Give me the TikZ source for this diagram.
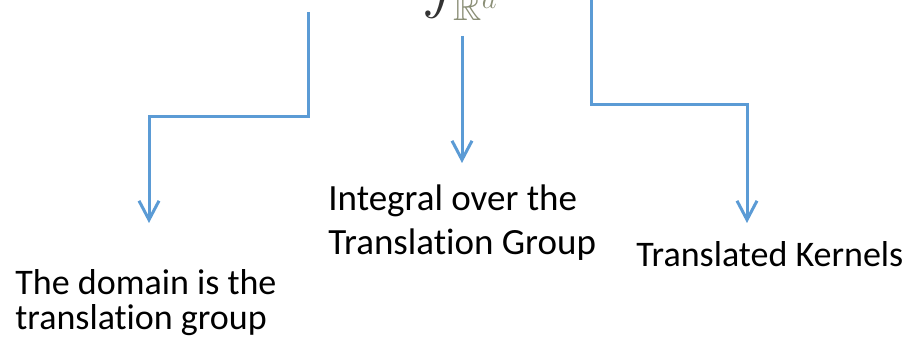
\documentclass[tikz,border=0pt]{standalone}
\usepackage{amssymb}
\usepackage{fontspec}
\setmainfont[Ligatures=NoCommon]{Carlito}
\usepackage{tikz}
\usetikzlibrary{arrows.meta,positioning}
\definecolor{lineblue}{RGB}{91,155,213}
\definecolor{bbgray}{RGB}{138,142,118}

\begin{document}
\begin{tikzpicture}[x=0.5pt,y=-0.5pt,
font=\fontsize{18}{22}\selectfont,
link/.style={-{Straight Barb[length=9.5pt,width=10pt]},draw=lineblue,line width=1.5pt},
boxtext/.style={anchor=north west,inner sep=0pt,align=left}]
    \useasboundingbox (0,0) rectangle (912,340);
    \clip (0,0) rectangle (912,340);

    % formula, only its lower part is inside the page
    \node[anchor=south west,inner sep=0pt,text=black!80] (intg) at (422,21)
        {\fontsize{28}{32}\selectfont$\displaystyle\int_{\color{bbgray}\mathbb{R}^d}$};

    % end points of the links
    \coordinate (ltop) at (308,12);
    \coordinate (lbend) at (308,117);
    \coordinate (ltip) at (149,223);
    \coordinate (mtop) at (462,36);
    \coordinate (mtip) at (462,163);
    \coordinate (rtop) at (591,-2);
    \coordinate (rbend) at (591,105);
    \coordinate (rtip) at (747,223);

    \draw[link] (ltop) -- (lbend) -| (ltip);
    \draw[link] (mtop) -- (mtip);
    \draw[link] (rtop) -- (rbend) -| (rtip);

    % texts
    \node[boxtext,font=\fontsize{18}{17.5}\selectfont] (dom) at (15,269)
        {The domain is the\\translation group};
    \node[boxtext,font=\fontsize{18.5}{22}\selectfont] (integ) at (328,184)
        {Integral over the\\Translation Group};
    \node[boxtext] (kern) at (636,241) {Translated Kernels};
\end{tikzpicture}
\end{document}
